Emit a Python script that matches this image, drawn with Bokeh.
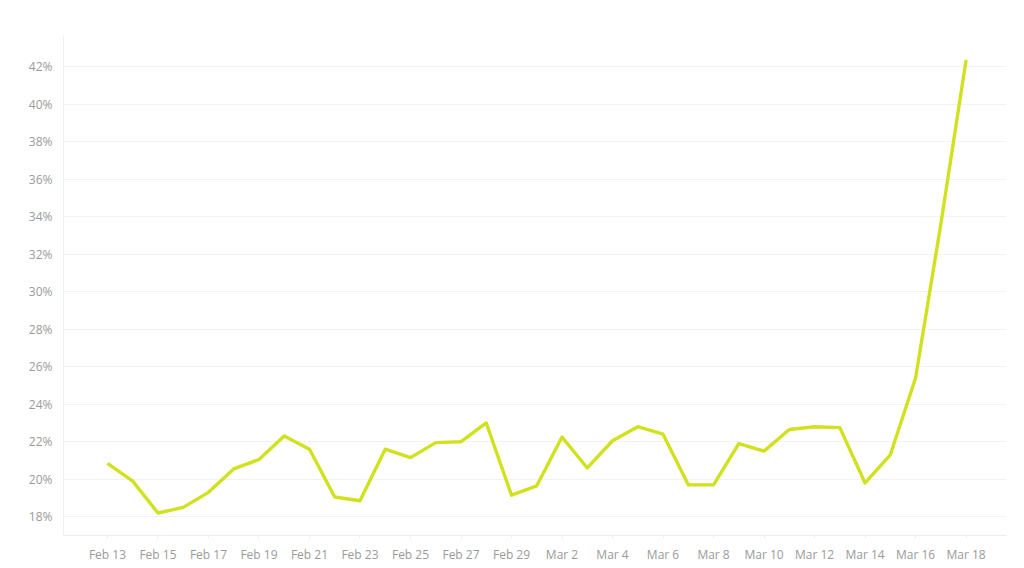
from datetime import datetime, timedelta
from bokeh.plotting import figure
from bokeh.models import FixedTicker, NumeralTickFormatter, DatetimeTickFormatter, Range1d
from bokeh.embed import file_html
from bokeh.resources import INLINE

start = datetime(2020, 2, 13)
dates = [start + timedelta(days=i) for i in range(35)]
values = [20.85, 19.9, 18.2, 18.5, 19.3, 20.55, 21.05, 22.3, 21.6, 19.05,
          18.85, 21.6, 21.15, 21.95, 22.0, 23.0, 19.15, 19.65, 22.25, 20.6,
          22.05, 22.8, 22.4, 19.7, 19.7, 21.9, 21.5, 22.65, 22.8, 22.75,
          19.8, 21.3, 25.4, 33.6, 42.35]
shares = [v / 100 for v in values]
y_ticks = [0.18, 0.20, 0.22, 0.24, 0.26, 0.28, 0.30, 0.32, 0.34, 0.36, 0.38, 0.40, 0.42]
x_tick_dates = dates[::2]

def ms(d):
    return (d - datetime(1970, 1, 1)).total_seconds() * 1000.0

day = 86400000.0
p = figure(width=1016, height=565, x_axis_type="datetime",
           output_backend="svg", toolbar_location=None,
           min_border_left=63, min_border_right=10, min_border_top=36, min_border_bottom=24)
p.x_range = Range1d(ms(dates[0]) - 1.74 * day, ms(dates[-1]) + 1.6 * day)
p.y_range = Range1d(0.17, 0.436)

p.line(dates, shares, line_color="#d1e11f", line_width=3.4, line_join="round")

font = "Open Sans"
gray = "#9a9a9a"
p.xaxis.ticker = FixedTicker(ticks=[ms(d) for d in x_tick_dates])
p.xaxis.formatter = DatetimeTickFormatter(days="%b %-d", months="%b %-d", hours="%b %-d")
p.yaxis.ticker = FixedTicker(ticks=y_ticks)
p.yaxis.formatter = NumeralTickFormatter(format="0%")

for ax in (p.xaxis, p.yaxis):
    ax.major_label_text_font = font
    ax.major_label_text_font_size = "12px"
    ax.major_label_text_color = gray
    ax.axis_line_color = "#eeeeee"
    ax.major_tick_line_color = None
    ax.minor_tick_line_color = None
p.xaxis.major_tick_line_color = "#eeeeee"
p.xaxis.major_tick_out = 3
p.xaxis.major_tick_in = 0
p.xaxis.major_label_standoff = 7
p.yaxis.major_label_standoff = 5

p.xgrid.grid_line_color = None
p.ygrid.grid_line_color = "#f2f2f2"
p.outline_line_color = None
p.background_fill_color = "white"
p.border_fill_color = "white"

open("out.html", "w").write(file_html(p, INLINE))
